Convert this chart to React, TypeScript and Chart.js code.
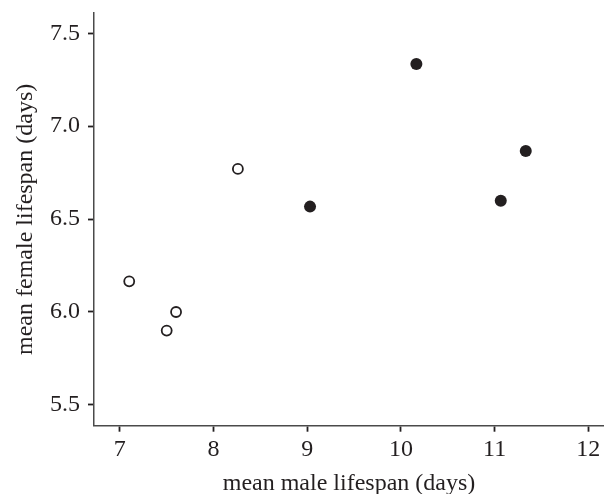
import React, { useEffect, useRef } from "react";
import { Chart, registerables } from "chart.js";

Chart.register(...registerables);

const openX = [7.1, 7.5, 7.6, 8.26];
const openY = [6.165, 5.9, 6.0, 6.77];
const filledX = [9.03, 10.165, 11.066, 11.333];
const filledY = [6.567, 7.334, 6.599, 6.866];
const xTicks = [7, 8, 9, 10, 11, 12];
const yTicks = [5.5, 6.0, 6.5, 7.0, 7.5];
const xTitle = "mean male lifespan (days)";
const yTitle = "mean female lifespan (days)";

const FONT = "'Liberation Serif', 'Times New Roman', serif";
const INK = "#231f20";
const AXIS = "#4a4a4a";

export default function App() {
  const ref = useRef<HTMLCanvasElement | null>(null);
  useEffect(() => {
    if (!ref.current) return;
    const chart = new Chart(ref.current, {
      type: "scatter",
      data: {
        datasets: [
          {
            data: openX.map((x, i) => ({ x, y: openY[i] })),
            pointStyle: "circle",
            pointRadius: 5,
            pointBorderWidth: 1.8,
            pointBorderColor: INK,
            pointBackgroundColor: "#ffffff",
          },
          {
            data: filledX.map((x, i) => ({ x, y: filledY[i] })),
            pointStyle: "circle",
            pointRadius: 6,
            pointBorderWidth: 0,
            pointBorderColor: INK,
            pointBackgroundColor: INK,
          },
        ],
      },
      options: {
        animation: false,
        responsive: false,
        maintainAspectRatio: false,
        layout: { autoPadding: false, padding: { top: 13, right: 0, left: 0, bottom: 0 } },
        plugins: { legend: { display: false }, tooltip: { enabled: false } },
        scales: {
          x: {
            type: "linear",
            min: 6.724,
            max: 12.168,
            afterBuildTicks: (s: any) => {
              s.ticks = xTicks.map((v) => ({ value: v }));
            },
            afterFit: (s: any) => {
              s.height = 494 - 425.7;
              s.paddingLeft = 0;
              s.paddingRight = 0;
            },
            grid: {
              drawOnChartArea: false,
              drawTicks: true,
              tickLength: 6,
              tickColor: INK,
              tickWidth: 1.8,
            },
            border: { display: true, color: AXIS, width: 1.5 },
            ticks: {
              color: INK,
              padding: 4,
              font: { family: FONT, size: 24 },
              callback: (v: any) => String(v),
            },
            title: {
              display: true,
              text: xTitle,
              color: INK,
              font: { family: FONT, size: 24 },
              padding: { top: 0, bottom: -4 },
            },
          },
          y: {
            type: "linear",
            min: 5.388,
            max: 7.609,
            afterBuildTicks: (s: any) => {
              s.ticks = yTicks.map((v) => ({ value: v }));
            },
            afterFit: (s: any) => {
              s.width = 94;
              s.paddingTop = 0;
              s.paddingBottom = 0;
            },
            grid: {
              drawOnChartArea: false,
              drawTicks: true,
              tickLength: 6,
              tickColor: INK,
              tickWidth: 1.8,
            },
            border: { display: true, color: AXIS, width: 1.5 },
            ticks: {
              color: INK,
              padding: 8,
              font: { family: FONT, size: 24 },
              callback: (v: any) => Number(v).toFixed(1),
            },
            title: {
              display: true,
              text: yTitle,
              color: INK,
              font: { family: FONT, size: 24 },
              padding: { top: 11, bottom: 0 },
            },
          },
        },
      },
    });
    return () => chart.destroy();
  }, []);
  return (
    <div style={{ position: "fixed", left: 0, top: 0, width: 604, height: 494, background: "#fff" }}>
      <canvas ref={ref} width={604} height={494} style={{ display: "block" }} />
    </div>
  );
}
